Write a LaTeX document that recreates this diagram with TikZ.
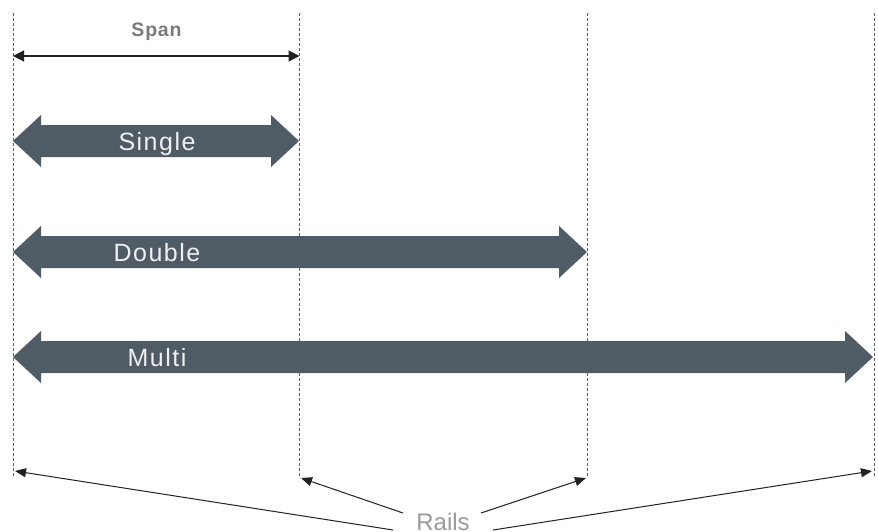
\documentclass[tikz,border=0pt]{standalone}
\usepackage{fontspec}
\setmainfont{Liberation Sans}
\usetikzlibrary{arrows.meta}
\definecolor{fatcol}{HTML}{4F5B65}
\definecolor{railcol}{HTML}{56626B}
\definecolor{spancol}{HTML}{7A7A7A}
\definecolor{railtxt}{HTML}{9A9A9A}
\definecolor{tipcol}{HTML}{222222}
\newcommand{\fatarrow}[2]{% y, right tip x
  \fill[fatcol] (13,#1) -- (41,#1-26) -- (41,#1-16) -- (#2-28,#1-16) -- (#2-28,#1-26)
    -- (#2,#1) -- (#2-28,#1+26) -- (#2-28,#1+16) -- (41,#1+16) -- (41,#1+26) -- cycle;}
\begin{document}
\begin{tikzpicture}[x=1pt,y=-1pt,
  rail/.style={railcol, line width=0.9pt, dash pattern=on 3pt off 2pt},
  fatlabel/.style={text=white!94!black, inner sep=0pt, anchor=base,
    font=\fontsize{25}{30}\selectfont\addfontfeatures{LetterSpace=6}},
  spanlabel/.style={text=spancol, inner sep=0pt, anchor=base,
    font=\fontsize{19.5}{23}\selectfont\bfseries\addfontfeatures{LetterSpace=4}},
  raillabel/.style={text=railtxt, inner sep=0pt, anchor=base,
    font=\fontsize{24}{28}\selectfont},
  spanarrow/.style={tipcol, line width=1.1pt, {Triangle[length=11pt,width=11pt]}-{Triangle[length=11pt,width=11pt]}},
  pointer/.style={tipcol, line width=1pt, -{Triangle[length=11pt,width=9pt]}}
]
\useasboundingbox (0,0) rectangle (878,531);
% rails
\coordinate (t1) at (13,13);   \coordinate (b1) at (13,476);
\coordinate (t2) at (299.5,13); \coordinate (b2) at (299.5,477);
\coordinate (t3) at (587,13);  \coordinate (b3) at (587,477);
\coordinate (t4) at (874,13);  \coordinate (b4) at (874,476);
\draw[rail] (t1) -- (b1);
\draw[rail] (t2) -- (b2);
\draw[rail] (t3) -- (b3);
\draw[rail] (t4) -- (b4);
% span
\node[spanlabel] (span) at (156.5,36) {Span};
\coordinate (sl) at (13,56);
\coordinate (sr) at (299.5,56);
\draw[spanarrow] (sl) -- (sr);
% fat arrows
\fatarrow{141}{299}
\fatarrow{252}{587}
\fatarrow{357}{873}
\node[fatlabel] (single) at (157,150) {Single};
\node[fatlabel] (double) at (157,261) {Double};
\node[fatlabel] (multi) at (157,366) {Multi};
% rails label
\node[raillabel] (rails) at (443,530) {Rails};
\coordinate (p1s) at (393,530); \coordinate (p1e) at (15,471);
\coordinate (p2s) at (403,513); \coordinate (p2e) at (301,478);
\coordinate (p3s) at (481,513); \coordinate (p3e) at (586,478);
\coordinate (p4s) at (493,530); \coordinate (p4e) at (872,471);
\draw[pointer] (p1s) -- (p1e);
\draw[pointer] (p2s) -- (p2e);
\draw[pointer] (p3s) -- (p3e);
\draw[pointer] (p4s) -- (p4e);
\end{tikzpicture}
\end{document}
